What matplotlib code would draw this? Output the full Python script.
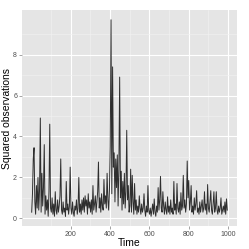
import numpy as np
import matplotlib
matplotlib.use("Agg")
import matplotlib.pyplot as plt

plt.rcParams["font.family"] = ["Liberation Sans", "DejaVu Sans"]

# time index (every 4th step) and squared observations
time = np.arange(1, 1001, 4)
seg_000 = [0.3, 1.2, 2.9, 3.45, 0.8, 0.2, 1.6, 0.5, 2.0, 0.4, 1.4, 4.9, 0.3, 2.2, 0.6, 1.5, 3.6, 0.2, 1.1, 0.4, 0.9, 0.1, 1.3, 4.6, 0.5]
seg_100 = [0.3, 1.0, 0.2, 0.7, 0.1, 1.3, 0.4, 0.2, 0.9, 0.3, 0.6, 1.1, 2.9, 0.4, 0.2, 0.8, 0.3, 0.5, 0.1, 1.8, 0.4, 0.7, 0.2, 0.6, 2.5]
seg_200 = [0.5, 0.2, 0.8, 0.3, 0.1, 0.6, 0.4, 0.9, 0.2, 0.5, 2.0, 0.3, 0.7, 0.2, 0.9, 0.4, 1.0, 0.3, 1.1, 0.6, 0.9, 0.2, 1.2, 0.5, 0.8]
seg_300 = [0.3, 0.9, 0.2, 1.6, 0.4, 0.7, 1.1, 0.3, 0.8, 1.3, 2.75, 0.5, 1.0, 0.3, 1.2, 0.6, 0.4, 1.9, 0.7, 1.1, 0.5, 2.2, 0.9, 0.4, 1.4]
seg_400 = [3.5, 9.7, 1.2, 7.4, 2.5, 3.2, 0.8, 2.9, 1.5, 3.1, 0.6, 2.4, 6.9, 1.0, 2.3, 0.4, 1.8, 0.7, 2.2, 0.5, 1.3, 4.3, 0.9, 1.6, 0.3]
seg_500 = [0.6, 2.4, 0.3, 2.1, 0.8, 0.2, 1.7, 0.4, 0.9, 0.2, 0.6, 0.3, 1.1, 0.5, 0.2, 0.7, 0.3, 0.5, 1.2, 0.4, 0.1, 0.6, 0.3, 1.6, 0.4]
seg_600 = [0.2, 0.5, 0.1, 0.4, 0.7, 0.2, 0.95, 0.3, 0.1, 0.6, 0.3, 1.5, 0.4, 0.9, 2.05, 0.5, 0.3, 1.3, 0.6, 0.2, 0.8, 0.4, 0.2, 1.05, 0.3]
seg_700 = [0.6, 0.2, 0.9, 0.3, 0.5, 0.2, 1.8, 0.4, 0.7, 0.2, 1.7, 0.5, 0.3, 0.8, 0.2, 1.25, 0.4, 0.6, 2.1, 0.5, 0.9, 0.3, 0.7, 2.8, 1.0]
seg_800 = [1.85, 0.4, 0.8, 1.6, 0.3, 0.6, 0.2, 1.0, 0.4, 0.7, 1.35, 0.3, 0.5, 0.2, 0.8, 0.3, 0.6, 0.9, 0.3, 0.5, 1.3, 0.4, 0.7, 0.2, 1.65]
seg_900 = [0.5, 0.3, 0.8, 1.35, 0.4, 0.2, 0.7, 1.3, 0.3, 0.5, 1.3, 0.4, 0.2, 0.6, 0.3, 0.5, 1.0, 0.2, 0.4, 0.6, 0.3, 0.8, 0.2, 0.95, 0.4]
squared = np.array(seg_000 + seg_100 + seg_200 + seg_300 + seg_400 +
                   seg_500 + seg_600 + seg_700 + seg_800 + seg_900)

x_ticks = [200, 400, 600, 800, 1000]
y_ticks = [0, 2, 4, 6, 8]

fig = plt.figure(figsize=(2.49, 2.49), dpi=100)
ax = fig.add_axes([0.088, 0.092, 0.864, 0.868])
ax.set_facecolor("#E5E5E5")

ax.plot(time, squared, color="black", alpha=0.8, linewidth=0.7)

# ggplot-like expansion
xr = time.max() - time.min()
yr = squared.max() - squared.min()
ax.set_xlim(time.min() - 0.05 * xr, time.max() + 0.05 * xr)
ax.set_ylim(squared.min() - 0.05 * yr, squared.max() + 0.05 * yr)

ax.set_xticks(x_ticks)
ax.set_yticks(y_ticks)
ax.set_xticks([100, 300, 500, 700, 900], minor=True)
ax.set_yticks([1, 3, 5, 7, 9], minor=True)
ax.grid(which="major", color="white", linewidth=0.8)
ax.grid(which="minor", color="#F2F2F2", linewidth=0.4)
ax.set_axisbelow(True)
for s in ax.spines.values():
    s.set_visible(False)
ax.tick_params(which="major", length=2, width=0.5, color="#7F7F7F",
               labelsize=5, labelcolor="#4D4D4D", pad=1.5)
ax.tick_params(which="minor", length=0)

ax.set_xlabel("Time", fontsize=7.5, labelpad=0)
ax.set_ylabel("Squared observations", fontsize=7.5)
ax.yaxis.set_label_coords(-0.045, 0.5)

fig.savefig("out.png", dpi=100)
